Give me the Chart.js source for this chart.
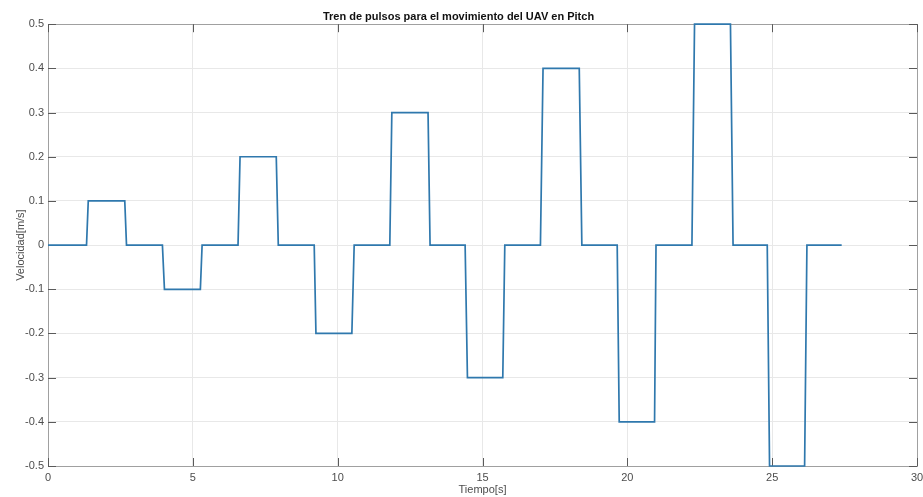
<!DOCTYPE html>
<html>
<head>
<meta charset="utf-8">
<script src="https://cdn.jsdelivr.net/npm/chart.js@4.4.1/dist/chart.umd.min.js"></script>
<style>
	body{margin:0;background:#fff;}
	#wrap{width:923px;height:497px;}
</style>
</head>
<body>
<div id="wrap"><canvas id="chart" width="923" height="497"></canvas></div>
<script>
// tren de pulsos
var tiempo=[0,1.33,1.39,2.65,2.71,3.95,4.02,5.26,5.32,6.56,6.63,7.88,7.95,9.19,9.25,10.49,10.57,
	11.80,11.87,13.12,13.19,14.40,14.48,15.70,15.77,17.00,17.09,18.34,18.43,19.65,19.72,20.94,20.99,
	22.23,22.32,23.56,23.65,24.83,24.91,26.12,26.20,27.40];
var velocidad=[0,0,0.1,0.1,0,0,-0.1,-0.1,0,0,0.2,0.2,0,0,-0.2,-0.2,0,
	0,0.3,0.3,0,0,-0.3,-0.3,0,0,0.4,0.4,0,0,-0.4,-0.4,0,
	0,0.5,0.5,0,0,-0.5,-0.5,0,0];
var xTicks=[0,5,10,15,20,25,30];
var yTicks=[-0.5,-0.4,-0.3,-0.2,-0.1,0,0.1,0.2,0.3,0.4,0.5];

var puntos=[];
for(var i=0;i<tiempo.length;i++){
	puntos.push({x:tiempo[i],y:velocidad[i]});
}

var fuente="'Liberation Sans', Arial, sans-serif";

// caja y marcas hacia adentro, estilo matlab
var caja={
	id:"caja",
	beforeDatasetsDraw:function(chart){
		var ctx=chart.ctx,a=chart.chartArea,sx=chart.scales.x,sy=chart.scales.y;
		ctx.save();
		ctx.strokeStyle="#a0a0a0";
		ctx.lineWidth=1;
		ctx.strokeRect(Math.round(a.left)+0.5,Math.round(a.top)+0.5,Math.round(a.right-a.left),Math.round(a.bottom-a.top));
		ctx.strokeStyle="#5a5a5a";
		ctx.beginPath();
		sx.ticks.forEach(function(t){
			var px=Math.round(sx.getPixelForValue(t.value))+0.5;
			ctx.moveTo(px,a.bottom);ctx.lineTo(px,a.bottom-8);
			ctx.moveTo(px,a.top);ctx.lineTo(px,a.top+8);
		});
		sy.ticks.forEach(function(t){
			var py=Math.round(sy.getPixelForValue(t.value))+0.5;
			ctx.moveTo(a.left,py);ctx.lineTo(a.left+8,py);
			ctx.moveTo(a.right,py);ctx.lineTo(a.right-8,py);
		});
		ctx.stroke();
		ctx.restore();
	}
};

new Chart("chart",{
	type:"scatter",
	data:{
		datasets:[{
			data:puntos,
			showLine:true,
			borderColor:"#2f78ad",
			borderWidth:1.7,
			pointRadius:0,
			tension:0,
			clip:false
		}]
	},
	options:{
		responsive:false,
		animation:false,
		layout:{padding:{left:0,right:6,top:0,bottom:0}},
		plugins:{
			legend:{display:false},
			tooltip:{enabled:false},
			title:{
				display:true,
				text:"Tren de pulsos para el movimiento del UAV en Pitch",
				color:"#111",
				font:{family:fuente,size:11,weight:"bold"},
				padding:{top:10,bottom:1}
			}
		},
		scales:{
			x:{
				type:"linear",
				min:0,max:30,
				afterBuildTicks:function(s){s.ticks=xTicks.map(function(v){return {value:v};});},
				afterFit:function(s){s.height=31;s.paddingLeft=0;s.paddingRight=0;},
				grid:{color:"#e8e8e8",drawTicks:false},
				border:{display:false},
				ticks:{color:"#4d4d4d",padding:5,font:{family:fuente,size:11},maxRotation:0},
				title:{display:true,text:"Tiempo[s]",color:"#4d4d4d",font:{family:fuente,size:11},padding:{top:0,bottom:0}}
			},
			y:{
				type:"linear",
				min:-0.5,max:0.5,
				afterBuildTicks:function(s){s.ticks=yTicks.map(function(v){return {value:v};});},
				afterFit:function(s){s.width=48;},
				grid:{color:"#e8e8e8",drawTicks:false},
				border:{display:false},
				ticks:{
					color:"#4d4d4d",padding:4,font:{family:fuente,size:11},
					callback:function(v){return Math.abs(v)<1e-9?"0":(+v.toFixed(1)).toString();}
				},
				title:{display:true,text:"Velocidad[m/s]",color:"#4d4d4d",font:{family:fuente,size:11},padding:{top:14,bottom:0}}
			}
		}
	},
	plugins:[caja]
});
</script>
</body>
</html>
